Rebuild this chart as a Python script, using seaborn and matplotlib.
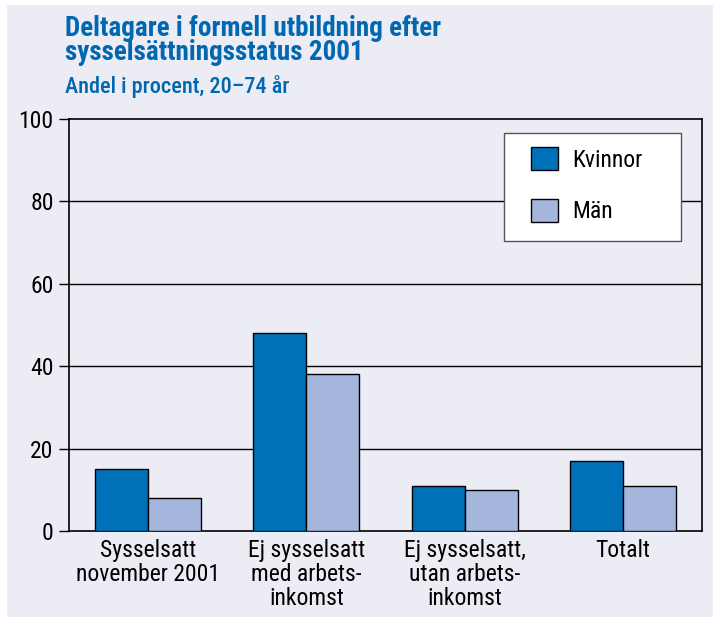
import numpy as np
import pandas as pd
import matplotlib
matplotlib.use("Agg")
import matplotlib.pyplot as plt
import seaborn as sns
from matplotlib.patches import Patch, Rectangle

# ── data ────────────────────────────────────────────────────────────────
categories = [
    "Sysselsatt\nnovember 2001",
    "Ej sysselsatt\nmed arbets-\ninkomst",
    "Ej sysselsatt,\nutan arbets-\ninkomst",
    "Totalt",
]
kvinnor = [15, 48, 11, 17]
man = [8, 38, 10, 11]
series = ["Kvinnor", "Män"]
yticks = [0, 20, 40, 60, 80, 100]

BG = "#ececf5"
COLORS = {"Kvinnor": "#0070b8", "Män": "#a4b6dc"}
TITLE_COLOR = "#0067b1"

df = pd.DataFrame({
    "kategori": categories * 2,
    "kon": ["Kvinnor"] * len(categories) + ["Män"] * len(categories),
    "andel": kvinnor + man,
})

sns.set_theme(style="white")
plt.rcParams["font.family"] = ["Roboto Condensed", "Liberation Sans Narrow",
                               "Liberation Sans", "DejaVu Sans"]

fig = plt.figure(figsize=(7.14, 6.17), dpi=100, facecolor="white")
# coloured panel with thin white margin on the left/top
fig.patches.append(Rectangle((7 / 714, 0), 706 / 714, 612 / 617,
                             transform=fig.transFigure, facecolor=BG,
                             edgecolor="none", zorder=-10))

ax = fig.add_axes([0.0966, 0.1394, 0.8866, 0.6677])
ax.set_facecolor(BG)

sns.barplot(data=df, x="kategori", y="andel", hue="kon",
            hue_order=series, palette=COLORS, width=0.67,
            edgecolor="black", linewidth=1, saturation=1,
            ax=ax, zorder=3)

ax.set_ylim(0, 100)
ax.set_xlim(-0.5, 3.5)
ax.set_yticks(yticks)
ax.set_yticklabels([str(t) for t in yticks], fontsize=17)
ax.tick_params(axis="y", left=True, length=7, width=1, color="black",
               pad=4, labelcolor="black")
ax.tick_params(axis="x", bottom=False, labelsize=17, pad=0,
               labelcolor="black")
for lab in ax.get_xticklabels():
    lab.set_linespacing(1.06)
ax.set_xlabel("")
ax.set_ylabel("")
for t in yticks[1:-1]:
    ax.axhline(t, color="black", lw=1, zorder=1)
for s in ax.spines.values():
    s.set_visible(True)
    s.set_color("black")
    s.set_linewidth(1.2)

# legend: white box + handles
ax.get_legend().remove()
ax.add_patch(Rectangle((0.687, 0.704), 0.280, 0.262, transform=ax.transAxes,
                       facecolor="white", edgecolor="#555555", lw=1,
                       zorder=4))
handles = [Patch(facecolor=COLORS[s], edgecolor="black", lw=1) for s in series]
leg = ax.legend(handles, series, loc="upper left",
                bbox_to_anchor=(0.730, 0.932), fontsize=17,
                handlelength=1.14, handleheight=1.14, labelspacing=1.14,
                handletextpad=0.59, borderpad=0, borderaxespad=0,
                frameon=False)
for txt in leg.get_texts():
    txt.set_color("black")
leg.set_zorder(5)

fig.text(0.091, 0.975, "Deltagare i formell utbildning efter\nsysselsättningsstatus 2001",
         fontsize=19.5, fontweight="bold", color=TITLE_COLOR, va="top",
         linespacing=0.82)
fig.text(0.091, 0.878, "Andel i procent, 20–74 år", fontsize=16,
         fontweight="medium", color=TITLE_COLOR, va="top")

fig.savefig("out.png", dpi=100, facecolor="white")
